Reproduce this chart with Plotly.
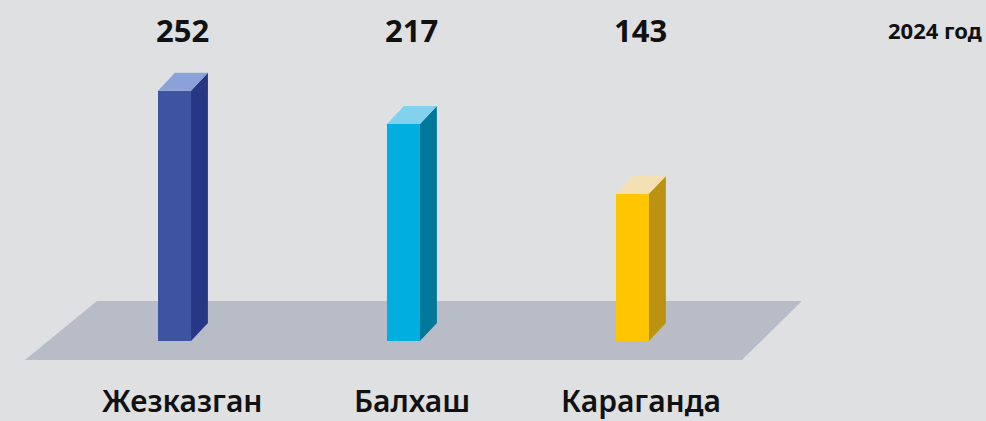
import plotly.graph_objects as go

# ---- data ----
categories = ["Жезказган", "Балхаш", "Караганда"]
values = [252, 217, 143]
value_labels = ["252", "217", "143"]
year_label = "2024 год"

front_colors = ["#3d55a1", "#00aee0", "#ffc600"]
side_colors = ["#283785", "#00789a", "#bc9212"]
top_colors = ["#8aa2d9", "#80d2ee", "#f4e1b3"]

# ---- geometry (in axis units) ----
W_LEFT = 0.109      # front face left offset from category centre
W_RIGHT = 0.035     # front face right offset
DEPTH_X = 0.074     # depth offset (x)
DEPTH_Y = 19.0      # depth offset (value units)
BASE = -12.7        # value at which the bars' front bottom sits

BG = "#dfe0e2"
FLOOR = "#b8bcc7"
FONT = "Noto Sans"

fig = go.Figure()

# floor (decoration)
fig.add_shape(type="path",
              path="M -0.3755,29.6 L 2.703,29.6 L 2.441,-32.8 L -0.690,-32.8 Z",
              xref="x", yref="y", fillcolor=FLOOR, line=dict(width=0), layer="below")

for i, (cat, v) in enumerate(zip(categories, values)):
    x0 = i - W_LEFT
    x1 = i + W_RIGHT
    x2 = x1 + DEPTH_X
    # front face
    fig.add_trace(go.Scatter(x=[x0, x1, x1, x0, x0], y=[BASE, BASE, v, v, BASE],
                             fill="toself", fillcolor=front_colors[i], mode="lines",
                             line=dict(width=0), hoverinfo="skip", showlegend=False))
    # side face
    fig.add_trace(go.Scatter(x=[x1, x2, x2, x1, x1],
                             y=[BASE, BASE + DEPTH_Y, v + DEPTH_Y, v, BASE],
                             fill="toself", fillcolor=side_colors[i], mode="lines",
                             line=dict(width=0), hoverinfo="skip", showlegend=False))
    # top face
    fig.add_trace(go.Scatter(x=[x0, x1, x2, x0 + DEPTH_X, x0],
                             y=[v, v, v + DEPTH_Y, v + DEPTH_Y, v],
                             fill="toself", fillcolor=top_colors[i], mode="lines",
                             line=dict(width=0), hoverinfo="skip", showlegend=False))
    # value label
    fig.add_annotation(x=i, y=0.929, xref="x", yref="paper", text=value_labels[i],
                       showarrow=False,
                       font=dict(size=31, color="#111111", family=FONT, weight=700),
                       xanchor="center", yanchor="middle")
    # category label
    fig.add_annotation(x=i, y=0.048, xref="x", yref="paper", text=cat,
                       showarrow=False,
                       font=dict(size=30, color="#111111", family=FONT, weight=600),
                       xanchor="center", yanchor="middle")

fig.add_annotation(x=984 / 986, y=0.929, xref="paper", yref="paper",
                   text=year_label, showarrow=False,
                   font=dict(size=22, color="#111111", family=FONT, weight=700),
                   xanchor="right", yanchor="middle")

fig.update_layout(
    width=986, height=421,
    margin=dict(l=0, r=0, t=0, b=0),
    paper_bgcolor=BG, plot_bgcolor=BG,
    xaxis=dict(range=[-0.799, 3.507], visible=False, fixedrange=True),
    yaxis=dict(range=[-97.35, 348.1], visible=False, fixedrange=True),
    showlegend=False,
)

fig.write_html("out.html", config={"displayModeBar": False},
               post_script="document.body.style.margin='0';document.body.style.background='%s';" % BG)
